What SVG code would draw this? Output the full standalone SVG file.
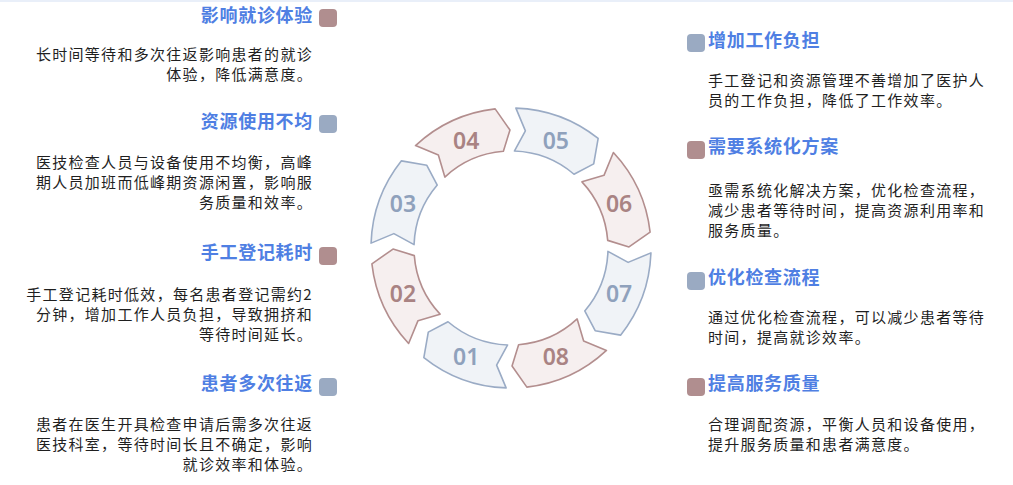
<svg xmlns="http://www.w3.org/2000/svg" width="1013" height="485" viewBox="0 0 1013 485">
<style>
.bg{fill:#ffffff}
.seg{stroke-width:1.6;stroke-linejoin:round}
.pk{fill:#f6efef;stroke:#b38e8e}
.bl{fill:#f0f3f7;stroke:#9aabc5}
.num{font-family:"Noto Sans","Open Sans","DejaVu Sans",sans-serif;font-size:23px;font-weight:600;text-anchor:middle;dominant-baseline:central}
.npk{fill:#a98383}
.nbl{fill:#8fa1bc}
.mk-pk{fill:#b08e8f}
.mk-bl{fill:#9aaac2}
.ttl{font-family:"Noto Sans CJK SC","Noto Sans",sans-serif;font-size:18px;font-weight:700;fill:#4f7fe3;letter-spacing:0.7px}
.body{font-family:"Noto Sans CJK SC","Noto Sans",sans-serif;font-size:15px;fill:#1f1f1f;letter-spacing:1.3px}
.l{text-anchor:end}
.r{text-anchor:start}
</style>
<defs>
<path id="segshape" d="M131.13,-49.03 A140,140 0 0 1 134.58,38.59 L109.41,44.20 L92.25,29.97 A97,97 0 0 0 90.86,-33.97 L113.71,-31.53 Z"/>
</defs>
<rect class="bg" x="0" y="0" width="1013" height="485"/>
<rect x="0" y="0" width="1013" height="2" fill="#e9eff9"/>

<g id="ring">
<g id="seg01"><use href="#segshape" class="seg bl" transform="translate(511,248) rotate(112.5)"/><text class="num nbl" x="466.2" y="356.1">01</text></g>
<g id="seg02"><use href="#segshape" class="seg pk" transform="translate(511,248) rotate(157.5)"/><text class="num npk" x="402.9" y="292.8">02</text></g>
<g id="seg03"><use href="#segshape" class="seg bl" transform="translate(511,248) rotate(202.5)"/><text class="num nbl" x="402.9" y="203.2">03</text></g>
<g id="seg04"><use href="#segshape" class="seg pk" transform="translate(511,248) rotate(247.5)"/><text class="num npk" x="466.2" y="139.9">04</text></g>
<g id="seg05"><use href="#segshape" class="seg bl" transform="translate(511,248) rotate(292.5)"/><text class="num nbl" x="555.8" y="139.9">05</text></g>
<g id="seg06"><use href="#segshape" class="seg pk" transform="translate(511,248) rotate(337.5)"/><text class="num npk" x="619.1" y="203.2">06</text></g>
<g id="seg07"><use href="#segshape" class="seg bl" transform="translate(511,248) rotate(22.5)"/><text class="num nbl" x="619.1" y="292.8">07</text></g>
<g id="seg08"><use href="#segshape" class="seg pk" transform="translate(511,248) rotate(67.5)"/><text class="num npk" x="555.8" y="356.1">08</text></g>
</g>

<g id="item-left-1">
<rect class="mk-pk" x="319" y="9" width="18" height="18" rx="4"/>
<text class="ttl l" x="313" y="22">影响就诊体验</text>
<text class="body l"><tspan x="313" y="60">长时间等待和多次往返影响患者的就诊</tspan><tspan x="313" y="80">体验，降低满意度。</tspan></text>
</g>
<g id="item-left-2">
<rect class="mk-bl" x="319" y="115" width="18" height="18" rx="4"/>
<text class="ttl l" x="313" y="128">资源使用不均</text>
<text class="body l"><tspan x="313" y="168">医技检查人员与设备使用不均衡，高峰</tspan><tspan x="313" y="188">期人员加班而低峰期资源闲置，影响服</tspan><tspan x="313" y="208">务质量和效率。</tspan></text>
</g>
<g id="item-left-3">
<rect class="mk-pk" x="319" y="247" width="18" height="18" rx="4"/>
<text class="ttl l" x="313" y="259">手工登记耗时</text>
<text class="body l"><tspan x="313" y="300">手工登记耗时低效，每名患者登记需约2</tspan><tspan x="313" y="320">分钟，增加工作人员负担，导致拥挤和</tspan><tspan x="313" y="340">等待时间延长。</tspan></text>
</g>
<g id="item-left-4">
<rect class="mk-bl" x="319" y="378" width="18" height="18" rx="4"/>
<text class="ttl l" x="313" y="390">患者多次往返</text>
<text class="body l"><tspan x="313" y="430">患者在医生开具检查申请后需多次往返</tspan><tspan x="313" y="450">医技科室，等待时间长且不确定，影响</tspan><tspan x="313" y="470">就诊效率和体验。</tspan></text>
</g>

<g id="item-right-1">
<rect class="mk-bl" x="687" y="34" width="18" height="18" rx="4"/>
<text class="ttl r" x="708" y="47">增加工作负担</text>
<text class="body r"><tspan x="708" y="86">手工登记和资源管理不善增加了医护人</tspan><tspan x="708" y="106">员的工作负担，降低了工作效率。</tspan></text>
</g>
<g id="item-right-2">
<rect class="mk-pk" x="687" y="141" width="18" height="18" rx="4"/>
<text class="ttl r" x="708" y="153">需要系统化方案</text>
<text class="body r"><tspan x="708" y="196">亟需系统化解决方案，优化检查流程，</tspan><tspan x="708" y="216">减少患者等待时间，提高资源利用率和</tspan><tspan x="708" y="236">服务质量。</tspan></text>
</g>
<g id="item-right-3">
<rect class="mk-bl" x="687" y="272" width="18" height="18" rx="4"/>
<text class="ttl r" x="708" y="284">优化检查流程</text>
<text class="body r"><tspan x="708" y="323">通过优化检查流程，可以减少患者等待</tspan><tspan x="708" y="343">时间，提高就诊效率。</tspan></text>
</g>
<g id="item-right-4">
<rect class="mk-pk" x="687" y="378" width="18" height="18" rx="4"/>
<text class="ttl r" x="708" y="390">提高服务质量</text>
<text class="body r"><tspan x="708" y="430">合理调配资源，平衡人员和设备使用，</tspan><tspan x="708" y="450">提升服务质量和患者满意度。</tspan></text>
</g>
</svg>
